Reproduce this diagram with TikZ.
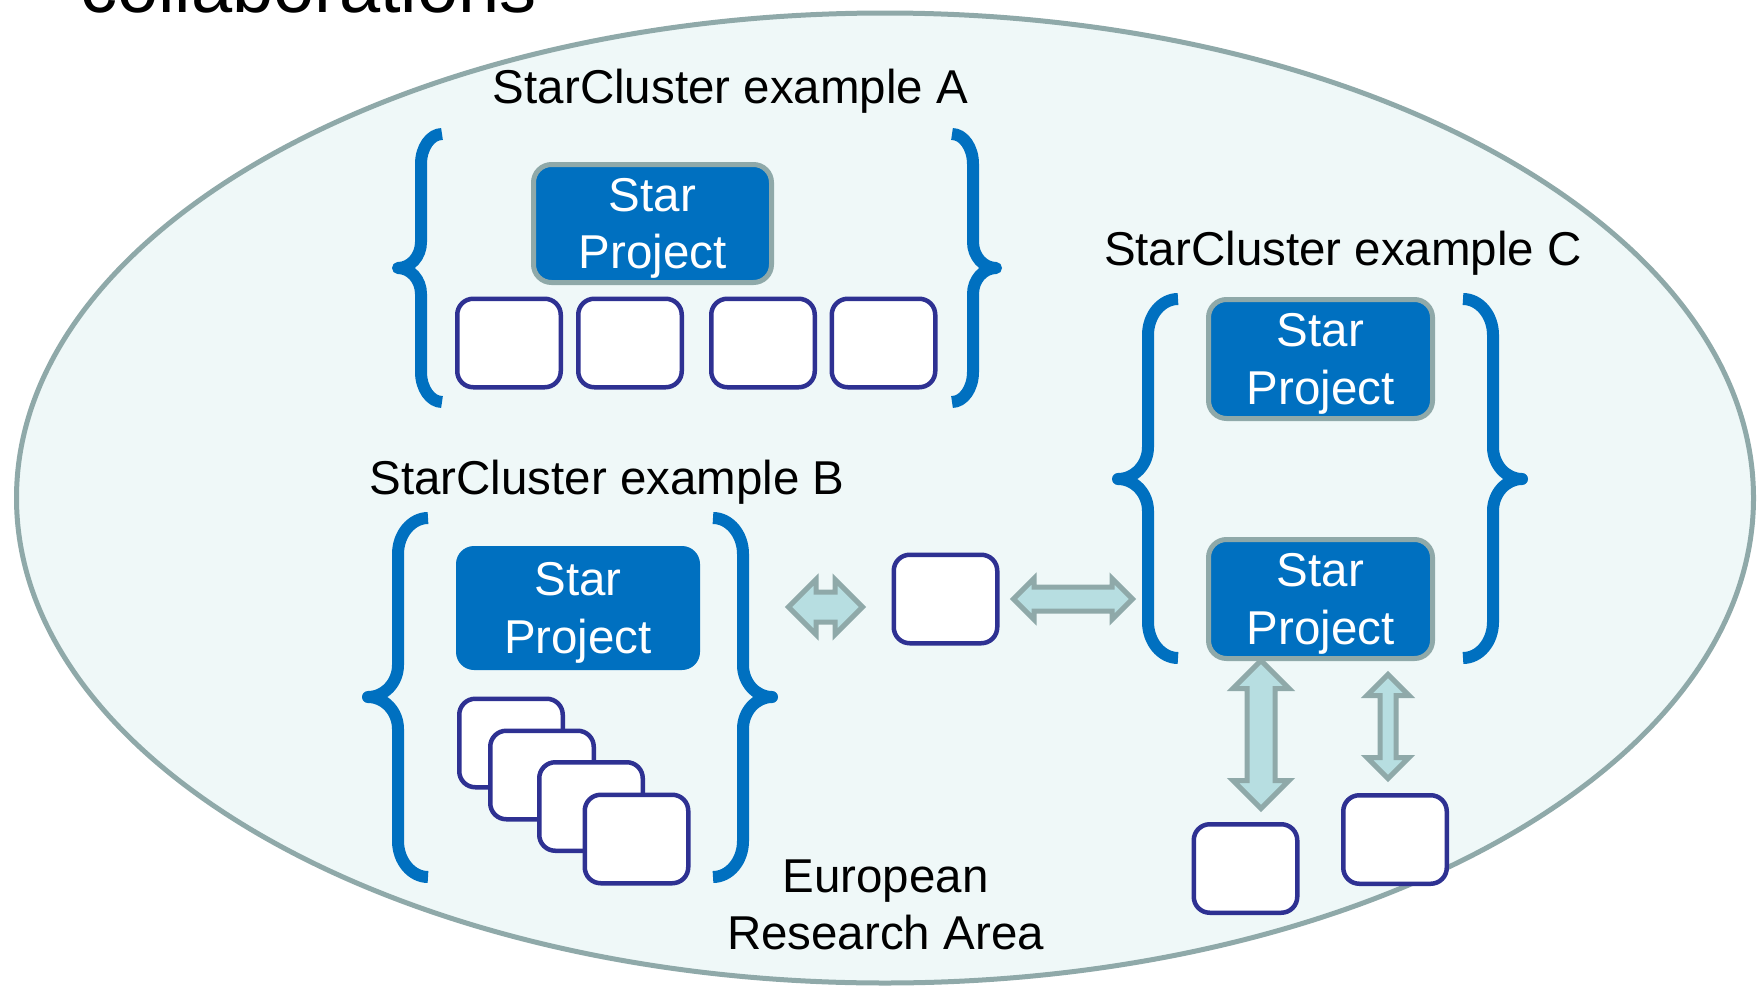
\documentclass[tikz,border=0pt]{standalone}
\usepackage{fontspec}
\setmainfont{Liberation Sans}
\usepackage{tikz}
\usetikzlibrary{shapes.arrows}
\definecolor{starblue}{HTML}{0070C0}
\definecolor{partnernavy}{HTML}{2E3192}
\definecolor{rimgray}{HTML}{8FA9A9}
\definecolor{erafill}{HTML}{EFF8F8}
\definecolor{linkfill}{HTML}{B7DEE1}

\begin{document}
\begin{tikzpicture}[
    x=1pt, y=-1pt,
    starproj/.style={rectangle, rounded corners=18pt, fill=starblue, draw=rimgray, line width=5pt,
        text=white, align=center, text depth=0pt, font=\fontsize{47.5}{57.5}\selectfont},
    partner/.style={rectangle, rounded corners=16pt, draw=partnernavy, line width=4.5pt, fill=white,
        minimum width=103.5pt, minimum height=88.5pt},
    clusterbrace/.style={draw=starblue, line width=12pt, line join=round},
    linkarrow/.style={double arrow, fill=linkfill, draw=rimgray, line width=5pt,
        inner xsep=0pt, minimum width=1pt},
    clustertitle/.style={inner sep=0pt, font=\fontsize{47.5}{57.5}\selectfont}
]
    \useasboundingbox (0,0) rectangle (1762,988);

    % European Research Area
    \draw[draw=rimgray, fill=erafill, line width=5pt] (885,498) ellipse [x radius=868.5, y radius=485];
    \node[anchor=base west, inner sep=0pt, font=\fontsize{74}{80}\selectfont] (heading) at (80,12) {collaborations};
    \node[clustertitle, align=center, text depth=0pt] (era) at (885.5,904.5) {European\\Research Area};

    % StarCluster example A
    \node[clustertitle, anchor=base] (titleA) at (730.5,103) {StarCluster example A};
    \draw[clusterbrace] (442,134) .. controls (430.5,134) and (421,147.5) .. (421,164) -- (421,242)
        .. controls (421,256.3) and (410.6,268) .. (398,268) .. controls (410.6,268) and (421,279.7) .. (421,294)
        -- (421,372) .. controls (421,388.5) and (430.5,402) .. (442,402);
    \draw[clusterbrace] (952,134) .. controls (963.5,134) and (973,147.5) .. (973,164) -- (973,242)
        .. controls (973,256.3) and (983.4,268) .. (996,268) .. controls (983.4,268) and (973,279.7) .. (973,294)
        -- (973,372) .. controls (973,388.5) and (963.5,402) .. (952,402);
    \node[starproj, minimum width=238pt, minimum height=118pt] (projA) at (652.5,223.5) {Star\\Project};
    \node[partner] (partA1) at (509,343) {};
    \node[partner] (partA2) at (630,343) {};
    \node[partner] (partA3) at (763,343) {};
    \node[partner] (partA4) at (883.5,343) {};

    % StarCluster example B
    \node[clustertitle, anchor=base] (titleB) at (607,494) {StarCluster example B};
    \draw[clusterbrace] (428,518) .. controls (411.5,518) and (398,534.2) .. (398,554) -- (398,665)
        .. controls (398,682.6) and (384.5,697) .. (368,697) .. controls (384.5,697) and (398,711.4) .. (398,729)
        -- (398,841) .. controls (398,860.8) and (411.5,877) .. (428,877);
    \draw[clusterbrace] (713,518) .. controls (729.5,518) and (743,534.2) .. (743,554) -- (743,665)
        .. controls (743,682.6) and (756,697) .. (772,697) .. controls (756,697) and (743,711.4) .. (743,729)
        -- (743,841) .. controls (743,860.8) and (729.5,877) .. (713,877);
    \node[starproj, draw=none, minimum width=244pt, minimum height=124pt] (projB) at (578,608) {Star\\Project};
    \node[partner] (stackB1) at (511,743) {};
    \node[partner] (stackB2) at (542,775) {};
    \node[partner] (stackB3) at (591,806.5) {};
    \node[partner] (stackB4) at (636.5,839) {};

    % partner between B and C
    \node[partner] (partMid) at (945.5,599) {};
    \node[linkarrow, minimum height=74pt, inner ysep=12.5pt, double arrow head extend=12.5pt] (linkBmid) at (825.5,607) {};
    \node[linkarrow, minimum height=119pt, inner ysep=9.5pt, double arrow head extend=8.5pt] (linkMidC) at (1073,599) {};

    % StarCluster example C
    \node[clustertitle, anchor=base] (titleC) at (1343,265) {StarCluster example C};
    \draw[clusterbrace] (1178,299) .. controls (1161.5,299) and (1148,315.2) .. (1148,335) -- (1148,447)
        .. controls (1148,464.6) and (1134.5,479) .. (1118,479) .. controls (1134.5,479) and (1148,493.4) .. (1148,511)
        -- (1148,622) .. controls (1148,641.8) and (1161.5,658) .. (1178,658);
    \draw[clusterbrace] (1463,299) .. controls (1479.5,299) and (1493,315.2) .. (1493,335) -- (1493,447)
        .. controls (1493,464.6) and (1506,479) .. (1522,479) .. controls (1506,479) and (1493,493.4) .. (1493,511)
        -- (1493,622) .. controls (1493,641.8) and (1479.5,658) .. (1463,658);
    \node[starproj, minimum width=224pt, minimum height=119pt] (projC1) at (1320.5,359) {Star\\Project};
    \node[starproj, minimum width=224pt, minimum height=119pt] (projC2) at (1320.5,599) {Star\\Project};
    \node[partner] (partC1) at (1245.5,868.5) {};
    \node[partner] (partC2) at (1395,839.5) {};
    \node[linkarrow, rotate=90, minimum height=148pt, inner ysep=11.5pt, double arrow head extend=14pt] (linkC1) at (1261,734.5) {};
    \node[linkarrow, rotate=90, minimum height=104pt, inner ysep=5.5pt, double arrow head extend=13pt] (linkC2) at (1388,726.5) {};
\end{tikzpicture}
\end{document}
